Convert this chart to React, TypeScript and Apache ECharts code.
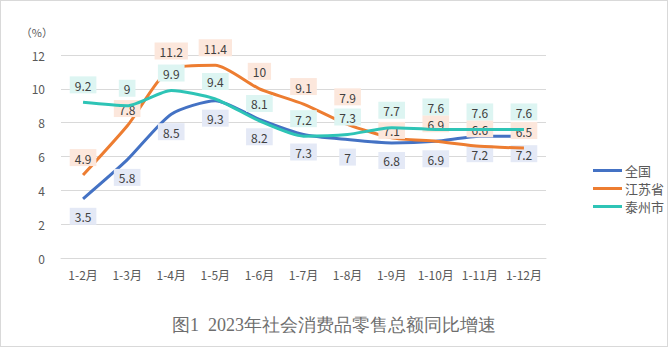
import React, { useEffect, useRef } from "react";
import * as echarts from "echarts";

const categories = ["1-2月", "1-3月", "1-4月", "1-5月", "1-6月", "1-7月", "1-8月", "1-9月", "1-10月", "1-11月", "1-12月"];
const national = [3.5, 5.8, 8.5, 9.3, 8.2, 7.3, 7, 6.8, 6.9, 7.2, 7.2];
const jiangsu = [4.9, 7.8, 11.2, 11.4, 10, 9.1, 7.9, 7.1, 6.9, 6.6, 6.5];
const taizhou = [9.2, 9, 9.9, 9.4, 8.1, 7.2, 7.3, 7.7, 7.6, 7.6, 7.6];
const yTicks = [0, 2, 4, 6, 8, 10, 12];

// manual label nudges (index -> vertical offset in px), as placed in the original
const jiangsuLabelNudge: Record<number, number> = { 6: -10, 7: 10 };
const taizhouLabelNudge: Record<number, number> = { 8: -5 };

const FONT = "'Noto Sans CJK SC', 'Noto Sans', sans-serif";

export default function App() {
  const ref = useRef<HTMLDivElement>(null);
  useEffect(() => {
    if (!ref.current) return;
    const chart = echarts.init(ref.current, undefined, { renderer: "svg" });
    const mk = (
      name: string,
      data: number[],
      color: string,
      bg: string,
      pos: string,
      nudge: Record<number, number>,
      z: number
    ) => ({
      name,
      type: "line",
      data,
      smooth: 0.22,
      symbol: "circle",
      symbolSize: 0,
      lineStyle: { color, width: 3 },
      itemStyle: { color },
      label: {
        show: true,
        position: pos,
        distance: 9,
        fontSize: 12,
        fontFamily: FONT,
        color: "#404040",
        backgroundColor: bg,
        padding: [3, 5, 2, 5],
      },
      labelLayout: (p: any) => ({ hideOverlap: false, dy: nudge[p.dataIndex] || 0 }),
      z,
    });
    chart.setOption({
      animation: false,
      backgroundColor: "#ffffff",
      textStyle: { fontFamily: FONT },
      title: {
        text: "图1  2023年社会消费品零售总额同比增速",
        left: "center",
        top: 310,
        textStyle: { fontSize: 18, fontWeight: "normal", color: "#6E6E6E", fontFamily: "serif" },
      },
      legend: {
        orient: "vertical",
        left: 587,
        top: 158,
        itemGap: 5,
        itemWidth: 29,
        itemHeight: 3,
        icon: "rect",
        textStyle: { fontSize: 13, color: "#595959", fontFamily: FONT, padding: [0, 0, 0, -2] },
        data: ["全国", "江苏省", "泰州市"],
      },
      grid: { left: 60, right: 121, top: 54, bottom: 88, containLabel: false },
      xAxis: {
        type: "category",
        data: categories,
        boundaryGap: true,
        axisLine: { show: true, lineStyle: { color: "#D9D9D9" } },
        axisTick: { show: false },
        axisLabel: { fontSize: 12, color: "#595959", margin: 10, interval: 0, fontFamily: FONT },
      },
      yAxis: {
        type: "value",
        min: yTicks[0],
        max: yTicks[yTicks.length - 1],
        interval: 2,
        name: "（%）",
        nameLocation: "end",
        nameGap: 18,
        nameTextStyle: { fontSize: 11, color: "#595959", align: "right", padding: [0, 8, 0, 0] },
        axisLine: { show: false },
        axisTick: { show: false },
        axisLabel: { fontSize: 12, color: "#595959", margin: 16, fontFamily: FONT },
        splitLine: { lineStyle: { color: "#D9D9D9" } },
      },
      series: [
        mk("全国", national, "#4472C4", "#E4E9F6", "bottom", {}, 1),
        mk("江苏省", jiangsu, "#ED7D31", "#FCE7DC", "top", jiangsuLabelNudge, 2),
        mk("泰州市", taizhou, "#2EC4B6", "#DDF5F2", "top", taizhouLabelNudge, 3),
      ],
    });
    return () => chart.dispose();
  }, []);
  return (
    <div
      ref={ref}
      style={{
        position: "absolute",
        left: 0,
        top: 0,
        width: 668,
        height: 347,
        boxSizing: "border-box",
        border: "1px solid #D9D9D9",
      }}
    />
  );
}
